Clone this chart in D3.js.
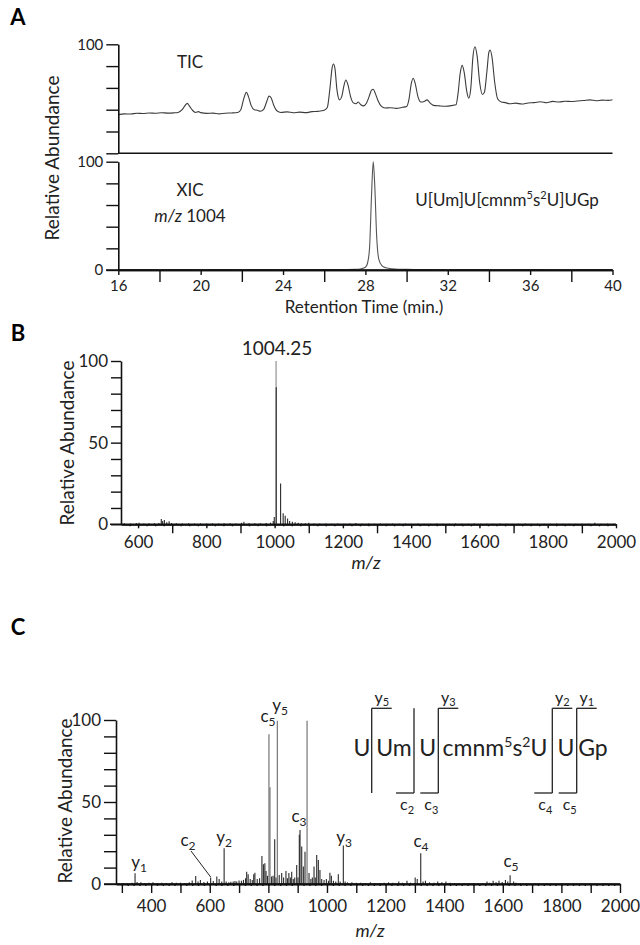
<!DOCTYPE html>
<html><head><meta charset="utf-8">
<script src="https://cdn.jsdelivr.net/npm/d3@7"></script>
<style>
body{margin:0;background:#fff;}
svg{display:block;font-family:Lato, "Open Sans", sans-serif;}
</style></head>
<body><svg id="c" width="640" height="945"></svg>
<script>
// ---------- DATA ----------
const ticTime = [16.0,16.3,16.6,16.9,17.2,17.5,17.8,18.1,18.4,18.7,18.9,19.1,19.25,19.35,19.45,19.6,19.75,19.9,20.0,20.3,20.6,20.9,21.2,21.5,21.8,21.95,22.05,22.15,22.22,22.32,22.45,22.6,22.75,22.9,23.05,23.2,23.32,23.42,23.55,23.7,23.9,24.2,24.5,24.8,25.1,25.4,25.7,26.0,26.15,26.28,26.38,26.45,26.52,26.62,26.75,26.85,26.97,27.05,27.15,27.28,27.4,27.55,27.65,27.78,27.9,28.05,28.18,28.3,28.38,28.48,28.62,28.78,28.95,29.2,29.5,29.8,30.0,30.12,30.22,30.32,30.42,30.55,30.7,30.85,31.0,31.15,31.3,31.6,31.9,32.2,32.4,32.5,32.6,32.7,32.8,32.92,33.02,33.12,33.22,33.32,33.42,33.55,33.68,33.78,33.9,34.0,34.06,34.15,34.28,34.42,34.6,34.8,35.0,35.3,35.6,35.9,36.2,36.5,36.8,37.1,37.4,37.7,38.0,38.3,38.6,38.9,39.2,39.5,39.8,40.0];
const ticValue = [35.5,36.2,36.0,36.8,36.5,37.0,36.7,37.2,36.9,37.1,37.4,40,44,45.8,43.5,39.5,37.5,38.2,37.3,36.6,36.9,36.2,36.8,37.0,37.5,40,47,53.5,56,52,44,40,39.5,38.6,40,47,52.5,51,44,39,37.5,38,37.2,37.8,37.3,38.2,38.5,39.5,42,60,78,81.9,78,58,49,52,63,67.2,63,52,46.5,45.5,47,44.5,43.5,46,52,58,58.7,55,48,43,41.5,41.8,41.2,42.2,43,50,63,68.8,64,52,47,47.5,49,46,44,43.5,43.2,43.8,44.5,55,73,80.7,74,57,50.5,60,88,97.8,90,65,54,56,75,93,94.8,88,65,50,47,46.5,45.5,46,45.2,46.2,46.5,47.3,46.4,47.6,47,47.8,47.5,48,48.4,49,48.2,48.8,48.6,49.2];

const xicTime  = [16,17,18,19,20,21,22,23,24,25,26,27,27.5,27.8,28.0,28.1,28.2,28.3,28.38,28.45,28.55,28.65,28.8,29.0,29.3,29.6,30,30.5,31,32,33,34,35,36,37,38,39,40];
const xicValue = [0.3,0.4,0.3,0.4,0.3,0.4,0.3,0.4,0.3,0.4,0.4,0.5,0.6,1.2,2.5,6,20,70,100,80,30,10,4,2,1,0.7,0.6,0.5,0.4,0.3,0.4,0.3,0.3,0.4,0.3,0.3,0.4,0.3];

const msMz  = [560,578,595,603,617,632,648,661,668,672,677,684,691,698,712,730,748,765,783,801,818,836,852,870,887,903,910,925,942,958,975,988,996,999,1004.25,1004.75,1017.5,1025,1031,1038,1044,1052,1060,1069,1078,1090,1100,1115,1132,1150,1168,1185,1203,1221,1238,1256,1275,1292,1310,1328,1346,1365,1383,1400,1420,1438,1456,1475,1494,1512,1530,1548,1567,1585,1604,1622,1640,1660,1678,1696,1715,1734,1752,1770,1790,1808,1826,1845,1863,1882,1900,1920,1938,1956,1975,1993];
const msInt = [0.6,0.5,0.8,1.0,0.5,0.6,0.7,0.8,3.2,2.0,2.6,1.2,1.8,0.8,0.6,0.5,0.6,0.5,0.6,0.5,0.6,0.5,0.7,0.6,0.5,0.9,1.6,0.6,0.7,0.6,0.8,1.0,2.0,4.5,100,84,25,6.8,5.2,3.6,2,1.5,1.2,0.9,0.6,0.6,1.0,0.5,0.5,0.5,0.4,0.5,0.4,0.5,0.8,0.4,0.5,0.4,0.5,0.4,0.5,0.4,0.5,0.4,0.5,0.4,0.4,0.5,0.4,0.4,0.5,0.4,0.4,0.5,0.4,0.4,0.4,0.5,0.4,0.4,0.4,0.5,0.4,0.4,0.4,0.4,0.5,0.4,0.4,0.4,0.4,0.4,0.9,0.4,0.4,0.4];

const ms2Mz  = [290,305,320,335,345,352,365,378,392,406,420,436,452,471,486,500,515,530,540,552,560,568,580,592,603,612,624,632,641,649,656,665,672,680,686,692,700,708,715,722,726,731,738,745,750,754,762,770,778,783,788,792,797,802,805.5,811,816,821.6,826,830.5,837,845.5,852,860,865,870,875,879.6,885,890,896.7,901,905.6,908,913.8,919.3,925,932,938.7,945,950,955.8,960,965,970.5,976,982,990,998,1005,1010,1015,1022,1030,1038.7,1045,1055.8,1062,1070,1085,1100,1115,1130,1148,1165,1180,1195,1210,1225,1245,1258,1273,1285,1301,1308,1320,1328,1336,1350,1365,1378,1392,1406,1420,1435,1450,1468,1485,1500,1515,1532,1546,1555,1567,1577,1587,1598,1609,1617,1625,1637,1645,1660,1680,1710,1750,1800,1850,1900,1950];
const ms2Int = [0.5,0.6,0.5,0.8,6.5,1.2,1.0,0.6,0.8,1.0,0.6,0.7,0.6,1.0,0.7,0.8,0.6,1.0,2.2,4.9,1.5,2.4,1.2,1.5,4.0,1.8,4.5,3.0,1.6,21.8,1.5,1.0,1.4,1.6,1.8,1.5,2.2,2.0,2.5,3.5,7.5,6.0,3.0,2.5,6.0,6.9,3.0,3.5,17,12,12.6,8,5,91.3,59,4.5,5,27.3,4,99.5,5.5,6.7,4,8,3.5,6.7,4,7.5,3,4,11.6,4,30,33,22.8,10.6,19.7,99.5,6.7,3,4,10.6,4,17.7,14.6,8.5,3,2.5,3,2,6.9,5,2,1.5,6,1.5,23.4,1.5,1,1.0,0.8,0.7,0.6,1.0,0.6,0.6,0.7,1.0,0.7,1.5,0.8,2.0,0.8,4.0,3.0,18.7,1.5,2.0,1.0,0.8,1.5,1.0,1.5,0.8,0.6,0.5,0.6,0.5,0.6,0.5,0.6,1.5,0.8,2.0,1.0,2.0,1.2,2.5,1.5,5.3,1.5,0.8,0.6,0.5,0.4,0.4,0.3,0.3,0.3,0.3];

const ms2Labels = [
  {mz:345, ion:"y", n:"1", x:139, y:863},
  {mz:649, ion:"y", n:"2", x:224, y:838},
  {mz:802, ion:"c", n:"5", x:268, y:717},
  {mz:830.5, ion:"y", n:"5", x:280, y:706},
  {mz:908, ion:"c", n:"3", x:299, y:817},
  {mz:1055.8, ion:"y", n:"3", x:344, y:838},
  {mz:1320, ion:"c", n:"4", x:421, y:842},
  {mz:1625, ion:"c", n:"5", x:511, y:862},
  {mz:603, ion:"c", n:"2", x:188, y:841}
];

// ---------- DRAW ----------
const svg = d3.select("#c");
const FONT = "Lato, 'Open Sans', sans-serif";
const INK = "#111";

function styleAxis(g, fs){
  g.attr("font-family", FONT).attr("font-size", fs);
  g.selectAll("path.domain").attr("stroke", INK).attr("stroke-width", 1.6);
  g.selectAll(".tick line").attr("stroke", INK).attr("stroke-width", 1.4);
  g.selectAll(".tick text").attr("fill", "#222");
}
function yAxis(scale, x, vals, labels, size, fs){
  const g = svg.append("g").attr("transform", `translate(${x},0)`)
    .call(d3.axisLeft(scale).tickValues(vals).tickSize(size).tickSizeOuter(0).tickPadding(3)
      .tickFormat(d => labels.includes(d) ? d : ""));
  styleAxis(g, fs);
  return g;
}
function xAxis(scale, y, vals, size, pad, fs, fmt){
  const g = svg.append("g").attr("transform", `translate(0,${y})`)
    .call(d3.axisBottom(scale).tickValues(vals).tickSize(size).tickSizeOuter(0).tickPadding(pad)
      .tickFormat(fmt));
  styleAxis(g, fs);
  return g;
}
function label(x, y, txt, opts={}){
  const t = svg.append("text").attr("x", x).attr("y", y).text(txt)
    .attr("font-family", FONT).attr("font-size", opts.fs||16)
    .attr("text-anchor", opts.anchor||"middle").attr("fill", opts.fill||"#222");
  if (opts.bold) t.attr("font-weight", "bold");
  if (opts.italic) t.attr("font-style", "italic");
  if (opts.rotate) t.attr("transform", `rotate(-90,${x},${y})`);
  return t;
}

// ===== Panel A =====
const xA = d3.scaleLinear().domain([16,40]).range([118.3,612.5]);
const yTop = d3.scaleLinear().domain([0,100]).range([153.3,44.3]);
const yBot = d3.scaleLinear().domain([0,100]).range([270,161.7]);

label(18, 25, "A", {fs:22, bold:true, fill:"#000"});

const line = (xs, ys) => d3.line().x(d=>xs(d[0])).y(d=>ys(d[1])).curve(d3.curveMonotoneX);
svg.append("path").datum(ticTime.map((t,i)=>[t,ticValue[i]]))
  .attr("d", line(xA, yTop)).attr("fill","none").attr("stroke","#3c3c3c").attr("stroke-width",1.1);
svg.append("path").datum(xicTime.map((t,i)=>[t,xicValue[i]]))
  .attr("d", line(xA, yBot)).attr("fill","none").attr("stroke","#555").attr("stroke-width",1.1);

yAxis(yTop, 118.3, [0,20,40,60,80,100], [100], 12, 15);
yAxis(yBot, 118.3, [0,20,40,60,80,100], [0,100], 12, 15);
svg.append("line").attr("x1", xA(16)).attr("x2", xA(40)).attr("y1", yTop(0)).attr("y2", yTop(0))
  .attr("stroke", INK).attr("stroke-width", 1.6);
xAxis(xA, 270, d3.range(16,41,4), 5, 5, 15, d=>d);
xAxis(xA, 270, d3.range(18,39,4), 12, 3, 15, ()=> "");
svg.append("line").attr("x1", 106).attr("x2", xA(40)).attr("y1", 270).attr("y2", 270)
  .attr("stroke", INK).attr("stroke-width", 1.6);

label(190, 68, "TIC", {fs:17});
label(190, 196, "XIC", {fs:17});
const mzA = label(190, 222, "", {fs:17});
mzA.append("tspan").attr("font-style","italic").text("m/z");
mzA.append("tspan").text(" 1004");
const seqA = label(507, 206, "", {fs:17});
seqA.append("tspan").text("U[Um]U[cmnm");
seqA.append("tspan").attr("font-size",11).attr("dy",-7).text("5");
seqA.append("tspan").attr("dy",7).text("s");
seqA.append("tspan").attr("font-size",11).attr("dy",-7).text("2");
seqA.append("tspan").attr("dy",7).text("U]UGp");
label(364, 313, "Retention Time (min.)", {fs:17});
label(59, 158, "Relative Abundance", {fs:19, rotate:true});

// ===== Panel B =====
const xB = d3.scaleLinear().domain([550,2000]).range([121,616]);
const yB = d3.scaleLinear().domain([0,100]).range([524.3,361]);
label(18, 341, "B", {fs:22, bold:true, fill:"#000"});
svg.append("g").selectAll("line").data(msMz.map((m,i)=>[m,msInt[i]])).join("line")
  .attr("x1", d=>xB(d[0])).attr("x2", d=>xB(d[0]))
  .attr("y1", yB(0)).attr("y2", d=>yB(d[1]))
  .attr("stroke", d=> d[1]>=99 ? "#8a8a8a" : "#2a2a2a").attr("stroke-width", 1.1);
yAxis(yB, 121, d3.range(0,101,10), [0,50,100], 10, 17);
xAxis(xB, 524.3, d3.range(575,2000,25), 2, 0, 0, ()=>"");
xAxis(xB, 524.3, d3.range(600,2001,200), 4, 8, 17, d=>d);
xAxis(xB, 524.3, d3.range(700,1901,200), 9, 3, 17, ()=>"");
svg.append("line").attr("x1", 110).attr("x2", xB(2000)).attr("y1", 524.3).attr("y2", 524.3)
  .attr("stroke", INK).attr("stroke-width", 1.6);
label(277, 355, "1004.25", {fs:19});
label(366, 569, "m/z", {fs:18, italic:true});
label(74, 443, "Relative Abundance", {fs:19, rotate:true});

// ===== Panel C =====
const xC = d3.scaleLinear().domain([280,2000]).range([116,620]);
const yC = d3.scaleLinear().domain([0,100]).range([884,720]);
label(18, 635, "C", {fs:22, bold:true, fill:"#000"});
svg.append("g").selectAll("line").data(ms2Mz.map((m,i)=>[m,ms2Int[i]])).join("line")
  .attr("x1", d=>xC(d[0])).attr("x2", d=>xC(d[0]))
  .attr("y1", yC(0)).attr("y2", d=>yC(d[1]))
  .attr("stroke", d=> d[1]>=50 ? "#6a6a6a" : "#2a2a2a").attr("stroke-width", 1.1);
yAxis(yC, 116, d3.range(0,101,10), [0,50,100], 12, 17);
xAxis(xC, 884, d3.range(300,2000,20), 2, 0, 0, ()=>"");
xAxis(xC, 884, d3.range(400,2001,200), 9, 7, 17, d=>d);
xAxis(xC, 884, d3.range(300,1901,200), 9, 3, 17, ()=>"");
svg.append("line").attr("x1", 104).attr("x2", xC(2000)).attr("y1", 884).attr("y2", 884)
  .attr("stroke", INK).attr("stroke-width", 1.6);
label(370, 937, "m/z", {fs:18, italic:true});
label(72, 801, "Relative Abundance", {fs:19, rotate:true});

// peak labels
ms2Labels.forEach(l=>{
  const t = label(l.x, l.y+5, "", {fs:17});
  t.append("tspan").text(l.ion);
  t.append("tspan").attr("font-size",12).attr("dy",4).text(l.n);
});
svg.append("line").attr("x1",191).attr("y1",851).attr("x2",xC(603)).attr("y2",877)
  .attr("stroke","#222").attr("stroke-width",1);

// sequence diagram
const seqY = 756;
const seqParts = [
  {x:362, t:"U"},{x:394, t:"Um"},{x:427.6, t:"U"},{x:566, t:"U"},{x:593, t:"Gp"}
];
seqParts.forEach(p=> label(p.x, seqY, p.t, {fs:23}));
const cm = label(495, seqY, "", {fs:23});
cm.append("tspan").text("cmnm");
cm.append("tspan").attr("font-size",14).attr("dy",-9).text("5");
cm.append("tspan").attr("dy",9).text("s");
cm.append("tspan").attr("font-size",14).attr("dy",-9).text("2");
cm.append("tspan").attr("dy",9).text("U");

const cuts = [
  {x:371.7, top:"5", bot:null},
  {x:414, top:null, bot:"2"},
  {x:438.3, top:"3", bot:"3"},
  {x:552.3, top:"2", bot:"4"},
  {x:576.7, top:"1", bot:"5"}
];
const yTopB = 708.3, yBotB = 793;
cuts.forEach(c=>{
  svg.append("line").attr("x1",c.x).attr("x2",c.x).attr("y1",yTopB).attr("y2",yBotB)
    .attr("stroke","#222").attr("stroke-width",1.3);
  if (c.top){
    svg.append("line").attr("x1",c.x).attr("x2",c.x+20).attr("y1",yTopB).attr("y2",yTopB)
      .attr("stroke","#222").attr("stroke-width",1.3);
    const t = label(c.x+10, 703, "", {fs:16});
    t.append("tspan").text("y");
    t.append("tspan").attr("font-size",11).attr("dy",3).text(c.top);
  }
  if (c.bot){
    svg.append("line").attr("x1",c.x-18).attr("x2",c.x).attr("y1",yBotB).attr("y2",yBotB)
      .attr("stroke","#222").attr("stroke-width",1.3);
    const t = label(c.x-7, 810, "", {fs:16});
    t.append("tspan").text("c");
    t.append("tspan").attr("font-size",11).attr("dy",4).text(c.bot);
  }
});
</script></body></html>
